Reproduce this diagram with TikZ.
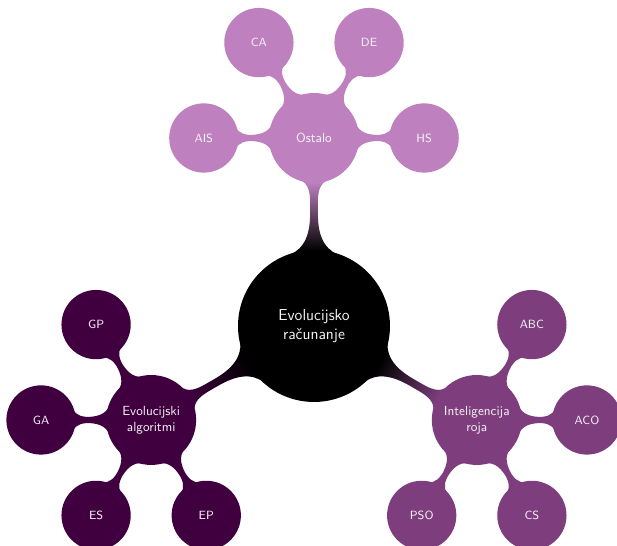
\documentclass[tikz,border=0pt]{standalone}
\usepackage{fontspec}
\usetikzlibrary{mindmap,trees}
\definecolor{evocol}{RGB}{64,0,64}
\definecolor{swarmcol}{RGB}{126,62,126}
\definecolor{othercol}{RGB}{191,128,191}
\begin{document}
\begin{tikzpicture}[mindmap,
  every node/.style={concept, align=center, text=white!92!gray},
  concept color=black,
  rootc/.style={minimum size=4cm, text width=3.4cm, font=\sffamily\large},
  lvla/.style={minimum size=2.35cm, text width=2.1cm, font=\sffamily\normalsize},
  lvlb/.style={minimum size=1.8cm, text width=1.4cm, font=\sffamily\small},
  level 1/.append style={level distance=5cm},
  level 2/.append style={level distance=2.93cm}]
  \useasboundingbox (-8.351,-5.851) rectangle (8.059,8.670);
  \node[rootc] (root) at (0,0) {Evolucijsko\\računanje}
    child[concept color=othercol, grow=90] { node[lvla] (ost) {Ostalo}
      child[grow=180] { node[lvlb] (ais) {AIS} }
      child[grow=120] { node[lvlb] (ca) {CA} }
      child[grow=60] { node[lvlb] (de) {DE} }
      child[grow=0] { node[lvlb] (hs) {HS} }
    }
    child[concept color=evocol, grow=210] { node[lvla] (ea) {Evolucijski\\algoritmi}
      child[grow=120] { node[lvlb] (gp) {GP} }
      child[grow=180] { node[lvlb] (ga) {GA} }
      child[grow=240] { node[lvlb] (es) {ES} }
      child[grow=300] { node[lvlb] (ep) {EP} }
    }
    child[concept color=swarmcol, grow=330] { node[lvla] (ir) {Inteligencija\\roja}
      child[grow=60] { node[lvlb] (abc) {ABC} }
      child[grow=0] { node[lvlb] (aco) {ACO} }
      child[grow=300] { node[lvlb] (cs) {CS} }
      child[grow=240] { node[lvlb] (pso) {PSO} }
    };
\end{tikzpicture}
\end{document}
